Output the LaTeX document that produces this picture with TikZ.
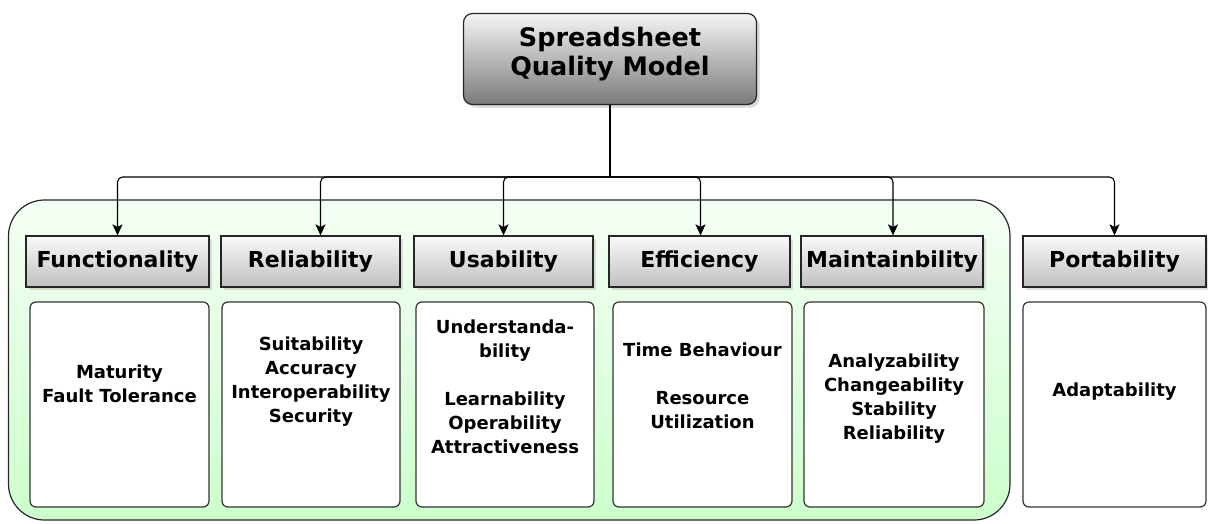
\documentclass[tikz,border=0pt]{standalone}
\usepackage{fontspec}
\setmainfont{DejaVu Sans}
\usetikzlibrary{arrows.meta,shadows}
\definecolor{greenlow}{HTML}{CCFFCC}

\begin{document}
\begin{tikzpicture}[x=1pt,y=-1pt,
		modelbox/.style={draw=black!85, line width=1.2pt, rounded corners=9pt, top color=black!4, bottom color=black!52, minimum width=293pt, minimum height=91pt, drop shadow={shadow xshift=3pt, shadow yshift=-3pt, fill=black!30}},
		modeltext/.style={align=center, inner sep=0pt, font=\bfseries\fontsize{25.5}{29}\selectfont},
		charbox/.style={draw=black!85, line width=1.2pt, top color=black!2, bottom color=black!25, minimum height=51pt, inner sep=0pt, font=\bfseries\fontsize{22}{26}\selectfont, drop shadow={shadow xshift=3pt, shadow yshift=-3pt, fill=black!25}},
		subbox/.style={draw=black!80, line width=1.2pt, fill=white, rounded corners=6pt, minimum height=205pt, inner sep=0pt},
		items/.style={align=center, inner sep=0pt, font=\bfseries\fontsize{18}{24}\selectfont},
		link/.style={line width=1.1pt, rounded corners=5pt, -{Stealth[length=11pt,width=10pt,inset=2.5pt]}}]
		%%%%% START %%%%%
		\useasboundingbox (0,0) rectangle (1208,523);
		
		% the group of five
		\draw[draw=black!85, line width=1.2pt, rounded corners=36pt, top color=greenlow!20!white, bottom color=greenlow] (8.5,200) rectangle (1010,520);
		
		\node[modelbox] (model) at (610,59) {};
		\node[modeltext] (modeltitle) at (610,54) {Spreadsheet\\Quality Model};
		
		\node[charbox, minimum width=183pt] (func) at (117.5,261.5) {Functionality};
		\node[charbox, minimum width=179pt] (reli) at (310.5,261.5) {Reliability};
		\node[charbox, minimum width=179pt] (usab) at (503.5,261.5) {Usability};
		\node[charbox, minimum width=181pt] (effi) at (699.5,261.5) {Efficiency};
		\node[charbox, minimum width=182pt] (main) at (892,261.5) {Maintainbility};
		\node[charbox, minimum width=183pt] (port) at (1114.5,261.5) {Portability};
		
		\node[subbox, minimum width=179pt] (funcbox) at (119.5,404.5) {};
		\node[subbox, minimum width=178pt] (relibox) at (311,404.5) {};
		\node[subbox, minimum width=178pt] (usabbox) at (505,404.5) {};
		\node[subbox, minimum width=179pt] (effibox) at (702.5,404.5) {};
		\node[subbox, minimum width=180pt] (mainbox) at (894,404.5) {};
		\node[subbox, minimum width=183pt] (portbox) at (1114.5,404.5) {};
		
		\node[items] (funcitems) at (119.5,384) {Maturity\\Fault Tolerance};
		\node[items] (reliitems) at (311,382) {Suitability\\Accuracy\\Interoperability\\Security};
		\node[items] (usabitems) at (505,387) {Understanda-\\bility\\[24pt]Learnability\\Operability\\Attractiveness};
		\node[items] (effiitems) at (702.5,385.5) {Time Behaviour\\[24pt]Resource\\Utilization};
		\node[items] (mainitems) at (894,398.5) {Analyzability\\Changeability\\Stability\\Reliability};
		\node[items] (portitems) at (1114.5,391.5) {Adaptability};
		
		% tree lines
		\coordinate (bus) at (610,177);
		\draw[line width=1.1pt] (model.south) -- (bus);
		\draw[link] (bus) -| (func.north);
		\draw[link] (bus) -| ([xshift=10pt]reli.north);
		\draw[link] (bus) -| (usab.north);
		\draw[link] (bus) -| ([xshift=1pt]effi.north);
		\draw[link] (bus) -| ([xshift=1pt]main.north);
		\draw[link] (bus) -| (port.north);
		%%%%% END %%%%%
\end{tikzpicture}
\end{document}
